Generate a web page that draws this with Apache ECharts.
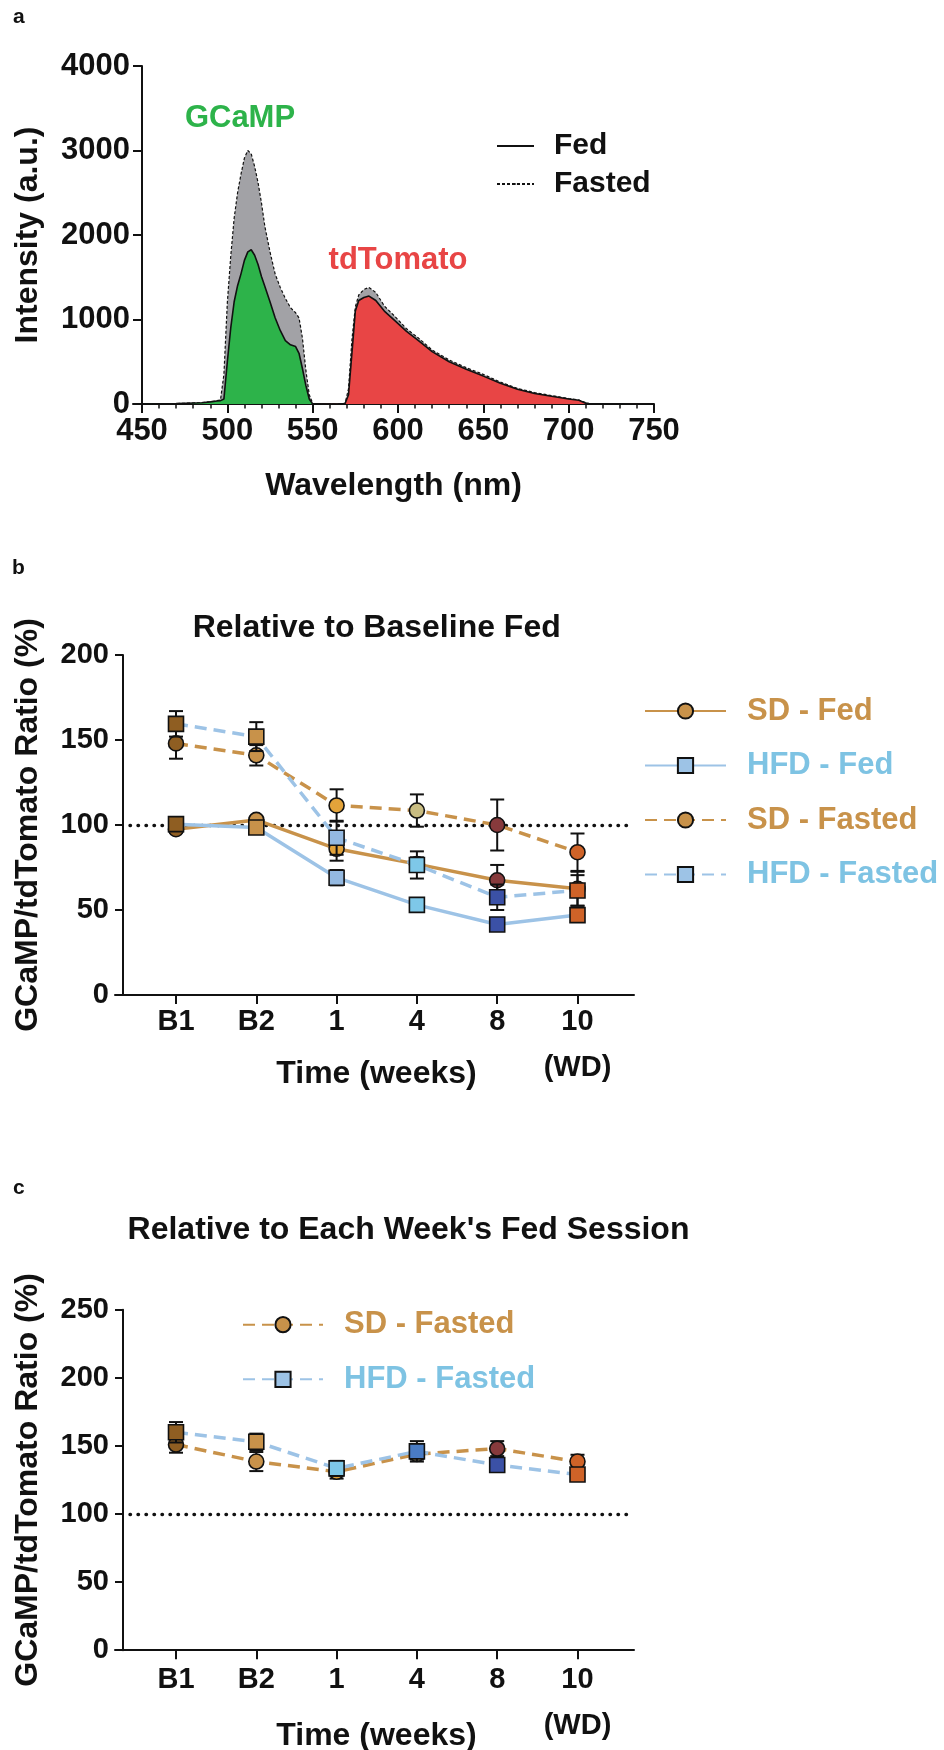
<!DOCTYPE html>
<html><head><meta charset="utf-8">
<script src="https://cdn.jsdelivr.net/npm/echarts@6/dist/echarts.min.js"></script>
<style>
html,body{margin:0;padding:0;background:#fff;}
#wrap{position:relative;width:944px;height:1750px;}
.p{position:absolute;left:0;width:944px;}
</style></head><body>
<div id="wrap">
<div id="ca" class="p" style="top:0;height:520px"></div>
<div id="cb" class="p" style="top:520px;height:620px"></div>
<div id="cc" class="p" style="top:1140px;height:610px"></div>
</div>
<script>
// ---------- Panel a data (emission spectra) ----------
const gcampWl     = [450,470,485,490,494,496,498,500,502,504,506,508,510,512,514,516,518,520,522,525,528,531,534,537,540,542,544,546,548,550];
const gcampFasted = [0,5,15,25,40,50,350,1200,1750,2200,2500,2720,2910,3000,2960,2810,2620,2380,2100,1800,1540,1380,1250,1140,1080,1020,780,400,110,8];
const gcampFed    = [0,5,15,25,35,40,60,500,900,1210,1400,1540,1700,1800,1825,1760,1650,1510,1390,1210,1020,870,750,700,680,600,420,220,60,0];
const tdWl        = [550,565,569,571,573,575,577,580,583,587,592,598,605,612,620,630,640,650,660,670,680,690,700,706,710,712,730,750];
const tdFasted    = [0,3,8,180,760,1150,1290,1355,1380,1320,1160,1040,890,780,640,520,430,350,260,185,135,100,65,47,15,5,3,0];
const tdFed       = [0,3,5,110,600,1100,1225,1260,1277,1225,1100,990,860,750,620,500,410,330,245,175,125,92,60,45,10,2,3,0];
const xTicksA     = [450,500,550,600,650,700,750];
const xMinorA     = [460,470,480,490,510,520,530,540,560,570,580,590,610,620,630,640,660,670,680,690,710,720,730,740];

// ---------- Panels b / c data ----------
const timeCats = ['B1','B2','1','4','8','10\n(WD)'];
// b: relative to baseline fed
const sdFedB       = [97.5,103,86,77,67.5,62.5];
const sdFedErrB    = [2,2,7,4,9,10];
const hfdFedB      = [100.5,98.5,69,53,41.5,47];
const hfdFedErrB   = [2,2,4.5,2,2,3];
const sdFastB      = [148,141,111.5,108.5,100,84];
const sdFastErrB   = [9,6,9.5,9.5,15,11];
const hfdFastB     = [159.5,152,92.5,76.5,57.5,61.5];
const hfdFastErrB  = [7.5,8.5,10,8,7.5,9];
// c: relative to each week's fed session
const sdFastC      = [151,138.5,131,144,148,138.5];
const sdFastErrC   = [6,7,5,4,5.5,5];
const hfdFastC     = [160,153,133.5,146,136,129];
const hfdFastErrC  = [7.5,6,5.5,7.5,4,4];

// point colours (per time point)
const sdPointCols   = ['#8f5e22','#c8924a','#e3a33a','#c9bd82','#873a3c','#cf6328'];
const hfdPointColsB = ['#8f5e22','#c8924a','#94b9e1','#7ec8e8','#3b51a6','#cf6328'];
const hfdPointColsC = ['#8f5e22','#c8924a','#7ec8e8','#4a7cc4','#3b51a6','#cf6328'];

const FONT = '"Liberation Sans", Arial, Helvetica, sans-serif';
const INK = '#111111';
const SD_COL = '#c8924a';
const HFD_LINE = '#9dc3e6';
const HFD_TEXT = '#7ec3e3';

function zip(a, b) { return a.map((v, i) => [v, b[i]]); }

// ================= Panel a =================
(function () {
  const chart = echarts.init(document.getElementById('ca'), null, {renderer: 'canvas'});
  const pxPerNm = 512 / 300;
  const xMin = 450 - 9 / pxPerNm;
  const lab = {fontFamily: FONT, fontWeight: 'bold', color: INK, fontSize: 31};
  function areaSeries(name, wl, vals, fill, dashed, z) {
    return {
      name: name, type: 'line', data: zip(wl, vals), symbol: 'none', showSymbol: false,
      xAxisIndex: 0, yAxisIndex: 0, z: z, smooth: false,
      lineStyle: {color: INK, width: dashed ? 1.2 : 1.6, type: dashed ? [3, 2] : 'solid'},
      itemStyle: {color: INK},
      areaStyle: {color: fill, opacity: 1},
      emphasis: {disabled: true}
    };
  }
  chart.setOption({
    animation: false,
    grid: {left: 133, top: 66, width: 521, height: 338, outerBoundsMode: 'none', containLabel: false},
    xAxis: [
      {
        type: 'value', min: xMin, max: 750,
        axisLine: {show: true, onZero: false, lineStyle: {color: INK, width: 2}},
        splitLine: {show: false},
        axisTick: {show: true, customValues: xTicksA, length: 9, lineStyle: {color: INK, width: 2}},
        axisLabel: Object.assign({customValues: xTicksA, margin: 12, formatter: v => String(v)}, lab),
        name: 'Wavelength (nm)', nameLocation: 'middle', nameGap: 64, nameMoveOverlap: false,
        nameTextStyle: {fontFamily: FONT, fontWeight: 'bold', color: INK, fontSize: 32, lineHeight: 36}
      },
      {
        type: 'value', min: xMin, max: 750, position: 'bottom',
        axisLine: {show: false, onZero: false}, splitLine: {show: false}, axisLabel: {show: false},
        axisTick: {show: true, customValues: xMinorA, length: 4.5, lineStyle: {color: INK, width: 1.5}}
      }
    ],
    yAxis: {
      type: 'value', min: 0, max: 4000, interval: 1000, offset: -9,
      axisLine: {show: true, onZero: false, lineStyle: {color: INK, width: 2}},
      splitLine: {show: false},
      axisTick: {show: true, length: 9, lineStyle: {color: INK, width: 2}},
      axisLabel: Object.assign({margin: 12, formatter: v => String(v)}, lab),
      name: 'Intensity (a.u.)', nameLocation: 'middle', nameGap: 98, nameRotate: 90, nameMoveOverlap: false,
      nameTextStyle: {fontFamily: FONT, fontWeight: 'bold', color: INK, fontSize: 32}
    },
    legend: {
      data: ['Fed', 'Fasted'], orient: 'vertical', left: 496, top: 129, padding: 0,
      itemWidth: 37, itemHeight: 2, itemGap: 4, selectedMode: false,
      textStyle: {fontFamily: FONT, fontWeight: 'bold', color: INK, fontSize: 30, lineHeight: 34, padding: [0, 0, 0, 15]}
    },
    graphic: [
      {type: 'text', style: {text: 'a', x: 13, y: 17.6, font: 'bold 21px ' + FONT, fill: INK, textVerticalAlign: 'middle'}},
      {type: 'text', style: {text: 'GCaMP', x: 240, y: 118, font: 'bold 31px ' + FONT, fill: '#2db34a', textAlign: 'center', textVerticalAlign: 'middle'}},
      {type: 'text', style: {text: 'tdTomato', x: 398, y: 260, font: 'bold 31px ' + FONT, fill: '#e84545', textAlign: 'center', textVerticalAlign: 'middle'}}
    ],
    series: [
      areaSeries('Fasted', gcampWl, gcampFasted, '#a2a2a6', true, 2),
      areaSeries('Fed', gcampWl, gcampFed, '#2db34a', false, 3),
      areaSeries('Fasted', tdWl, tdFasted, '#a2a2a6', true, 2),
      areaSeries('Fed', tdWl, tdFed, '#e84545', false, 3)
    ]
  });
})();

// ================= Panels b and c =================
function errRender(params, api) {
  const x = api.value(0), lo = api.value(1), hi = api.value(2);
  const p1 = api.coord([x, hi]);
  const p2 = api.coord([x, lo]);
  const w = 7;
  const st = {stroke: INK, lineWidth: 2};
  return {type: 'group', children: [
    {type: 'line', shape: {x1: p1[0], y1: p1[1], x2: p2[0], y2: p2[1]}, style: st},
    {type: 'line', shape: {x1: p1[0] - w, y1: p1[1], x2: p1[0] + w, y2: p1[1]}, style: st},
    {type: 'line', shape: {x1: p2[0] - w, y1: p2[1], x2: p2[0] + w, y2: p2[1]}, style: st}
  ]};
}
function errSeries(vals, errs, z) {
  return {type: 'custom', renderItem: errRender, z: z, silent: true,
    data: vals.map((v, i) => [i, v - errs[i], v + errs[i]]), emphasis: {disabled: true}};
}
function ptSeries(name, vals, cols, isSD, dashed, z, extra) {
  const s = {
    name: name, type: 'line', z: z,
    data: vals.map((v, i) => ({value: [i, v], itemStyle: {color: cols[i]}})),
    symbol: isSD ? 'circle' : 'rect', symbolSize: 15,
    lineStyle: {color: isSD ? SD_COL : HFD_LINE, width: 3.5, type: dashed ? [12, 7] : 'solid'},
    itemStyle: {color: isSD ? SD_COL : HFD_LINE, borderColor: INK, borderWidth: 1.6},
    emphasis: {disabled: true}
  };
  return Object.assign(s, extra || {});
}
const dottedRef = {
  silent: true, symbol: ['none', 'none'], label: {show: false}, animation: false,
  lineStyle: {color: INK, width: 3.4, type: [0.5, 7.5], cap: 'round'},
  emphasis: {disabled: true},
  data: [[{coord: [-0.573, 100]}, {coord: [5.68, 100]}]]
};
function timeAxes(yMax, xNameGap, labMargin, yName) {
  const spacing = 80.3;
  const xMin = -(176 - 115) / spacing;
  const xMax = xMin + 519 / spacing;
  const lab = {fontFamily: FONT, fontWeight: 'bold', color: INK, fontSize: 29};
  const idx = timeCats.map((c, i) => i);
  return {
    xAxis: {
      type: 'value', min: xMin, max: xMax,
      axisLine: {show: true, onZero: false, lineStyle: {color: INK, width: 2}}, splitLine: {show: false},
      axisTick: {show: true, customValues: idx, length: 9, lineStyle: {color: INK, width: 2}},
      axisLabel: Object.assign({customValues: idx, margin: labMargin, lineHeight: 46,
        formatter: v => timeCats[Math.round(v)]}, lab),
      name: 'Time (weeks)', nameLocation: 'middle', nameGap: xNameGap, nameMoveOverlap: false,
      nameTextStyle: {fontFamily: FONT, fontWeight: 'bold', color: INK, fontSize: 32, lineHeight: 36, padding: [0, 0, 0, 4]}
    },
    yAxis: {
      type: 'value', min: 0, max: yMax, interval: 50, offset: -8,
      axisLine: {show: true, onZero: false, lineStyle: {color: INK, width: 2}}, splitLine: {show: false},
      axisTick: {show: true, length: 8, lineStyle: {color: INK, width: 2}},
      axisLabel: Object.assign({margin: 14}, lab),
      name: yName, nameLocation: 'middle', nameGap: 79, nameRotate: 90, nameMoveOverlap: false,
      nameTextStyle: {fontFamily: FONT, fontWeight: 'bold', color: INK, fontSize: 32}
    }
  };
}

// ---- Panel b ----
(function () {
  const chart = echarts.init(document.getElementById('cb'), null, {renderer: 'canvas'});
  const ax = timeAxes(200, 61, 4, 'GCaMP/tdTomato Ratio (%)');
  chart.setOption({
    animation: false,
    grid: {left: 115, top: 135, width: 519, height: 340, outerBoundsMode: 'none', containLabel: false},
    xAxis: ax.xAxis, yAxis: ax.yAxis,
    legend: {
      data: [
        {name: 'SD - Fed', textStyle: {color: SD_COL}},
        {name: 'HFD - Fed', textStyle: {color: HFD_TEXT}},
        {name: 'SD - Fasted', textStyle: {color: SD_COL}},
        {name: 'HFD - Fasted', textStyle: {color: HFD_TEXT}}
      ],
      orient: 'vertical', left: 644, top: 173, padding: 0, itemWidth: 81, itemHeight: 19, itemGap: 18.5, selectedMode: false,
      textStyle: {fontFamily: FONT, fontWeight: 'bold', fontSize: 31, lineHeight: 36, padding: [0, 0, 0, 16]}
    },
    graphic: [
      {type: 'text', style: {text: 'b', x: 12, y: 48.6, font: 'bold 21px ' + FONT, fill: INK, textVerticalAlign: 'middle'}},
      {type: 'text', style: {text: 'Relative to Baseline Fed', x: 376.7, y: 107.7, font: 'bold 32px ' + FONT, fill: INK, textAlign: 'center', textVerticalAlign: 'middle'}}
    ],
    series: [
      errSeries(sdFedB, sdFedErrB, 10),
      ptSeries('SD - Fed', sdFedB, sdPointCols, true, false, 11, {markLine: dottedRef}),
      errSeries(sdFastB, sdFastErrB, 12),
      ptSeries('SD - Fasted', sdFastB, sdPointCols, true, true, 13),
      errSeries(hfdFedB, hfdFedErrB, 14),
      ptSeries('HFD - Fed', hfdFedB, hfdPointColsB, false, false, 15),
      errSeries(hfdFastB, hfdFastErrB, 16),
      ptSeries('HFD - Fasted', hfdFastB, hfdPointColsB, false, true, 17)
    ]
  });
})();

// ---- Panel c ----
(function () {
  const chart = echarts.init(document.getElementById('cc'), null, {renderer: 'canvas'});
  const ax = timeAxes(250, 68, 7, 'GCaMP/tdTomato Ratio (%)');
  chart.setOption({
    animation: false,
    grid: {left: 115, top: 169.7, width: 519, height: 340.5, outerBoundsMode: 'none', containLabel: false},
    xAxis: ax.xAxis, yAxis: ax.yAxis,
    legend: {
      data: [
        {name: 'SD - Fasted', textStyle: {color: SD_COL}},
        {name: 'HFD - Fasted', textStyle: {color: HFD_TEXT}}
      ],
      orient: 'vertical', left: 242, top: 166.7, padding: 0, itemWidth: 80, itemHeight: 19, itemGap: 18.6, selectedMode: false,
      textStyle: {fontFamily: FONT, fontWeight: 'bold', fontSize: 31, lineHeight: 36, padding: [0, 0, 0, 16]}
    },
    graphic: [
      {type: 'text', style: {text: 'c', x: 13, y: 48.6, font: 'bold 21px ' + FONT, fill: INK, textVerticalAlign: 'middle'}},
      {type: 'text', style: {text: "Relative to Each Week's Fed Session", x: 408.5, y: 90.3, font: 'bold 32px ' + FONT, fill: INK, textAlign: 'center', textVerticalAlign: 'middle'}}
    ],
    series: [
      errSeries(sdFastC, sdFastErrC, 10),
      ptSeries('SD - Fasted', sdFastC, sdPointCols, true, true, 11, {markLine: dottedRef}),
      errSeries(hfdFastC, hfdFastErrC, 12),
      ptSeries('HFD - Fasted', hfdFastC, hfdPointColsC, false, true, 13)
    ]
  });
})();
</script>
</body></html>
